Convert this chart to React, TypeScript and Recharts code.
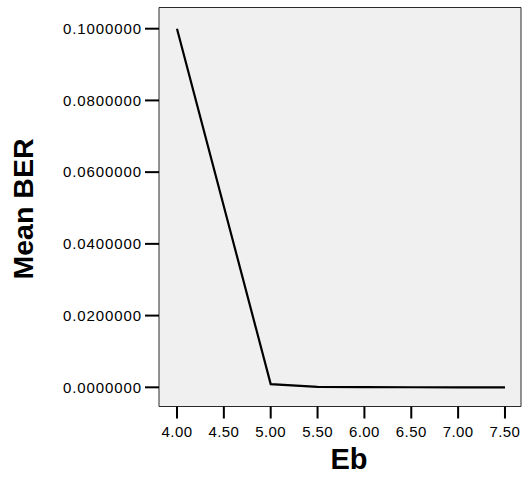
import { LineChart, Line, XAxis, YAxis, ReferenceArea, Label } from "recharts";

const ebValues = [4.0, 5.0, 5.5, 6.0, 6.5, 7.0, 7.5];
const meanBer = [0.1, 0.0009, 0.0001, 0.00004, 0.00002, 0.00001, 0.00001];
const xTicks = [4.0, 4.5, 5.0, 5.5, 6.0, 6.5, 7.0, 7.5];
const yTicks = [0, 0.02, 0.04, 0.06, 0.08, 0.1];

const data = ebValues.map((eb, i) => ({ eb, ber: meanBer[i] }));

const X_DOMAIN: [number, number] = [3.808, 7.671];
const Y_DOMAIN: [number, number] = [-0.00535, 0.10591];

const font = "Arial, 'Liberation Sans', Helvetica, sans-serif";

export default function App() {
  return (
    <div style={{ position: "absolute", left: 0, top: 0 }}>
      <LineChart
        width={523}
        height={495}
        data={data}
        margin={{ top: 7.5, right: 2, bottom: 58.5, left: 0 }}
      >
        <ReferenceArea
          x1={X_DOMAIN[0]}
          x2={X_DOMAIN[1]}
          y1={Y_DOMAIN[0]}
          y2={Y_DOMAIN[1]}
          fill="#f0f0f0"
          fillOpacity={1}
          stroke="#2a2a2a"
          strokeWidth={1}
          ifOverflow="visible"
        />
        <XAxis
          dataKey="eb"
          type="number"
          domain={X_DOMAIN}
          ticks={xTicks}
          allowDataOverflow
          height={30}
          axisLine={false}
          tickSize={14}
          tickMargin={6}
          tickLine={{ stroke: "#000", strokeWidth: 2, strokeDasharray: "0 2 12 20" }}
          tickFormatter={(v: number) => v.toFixed(2)}
          tick={{ fill: "#000", fontSize: 15, fontFamily: font, letterSpacing: 0.4 }}
        >
          <Label
            content={() => (
              <text
                x={349}
                y={469}
                textAnchor="middle"
                fontFamily={font}
                fontWeight="bold"
                fontSize={29}
                fill="#000"
              >
                Eb
              </text>
            )}
          />
        </XAxis>
        <YAxis
          type="number"
          domain={Y_DOMAIN}
          ticks={yTicks}
          allowDataOverflow
          width={159}
          axisLine={false}
          tickSize={14}
          tickMargin={3}
          tickLine={{ stroke: "#000", strokeWidth: 2 }}
          tickFormatter={(v: number) => v.toFixed(7)}
          tick={{ fill: "#000", fontSize: 15, fontFamily: font, letterSpacing: 0.9 }}
        >
          <Label
            content={() => (
              <text
                x={33}
                y={209}
                transform="rotate(-90 33 209)"
                textAnchor="middle"
                fontFamily={font}
                fontWeight="bold"
                fontSize={28.5}
                fill="#000"
              >
                Mean BER
              </text>
            )}
          />
        </YAxis>
        <Line
          type="linear"
          dataKey="ber"
          stroke="#000"
          strokeWidth={2.2}
          dot={false}
          isAnimationActive={false}
        />
      </LineChart>
    </div>
  );
}
